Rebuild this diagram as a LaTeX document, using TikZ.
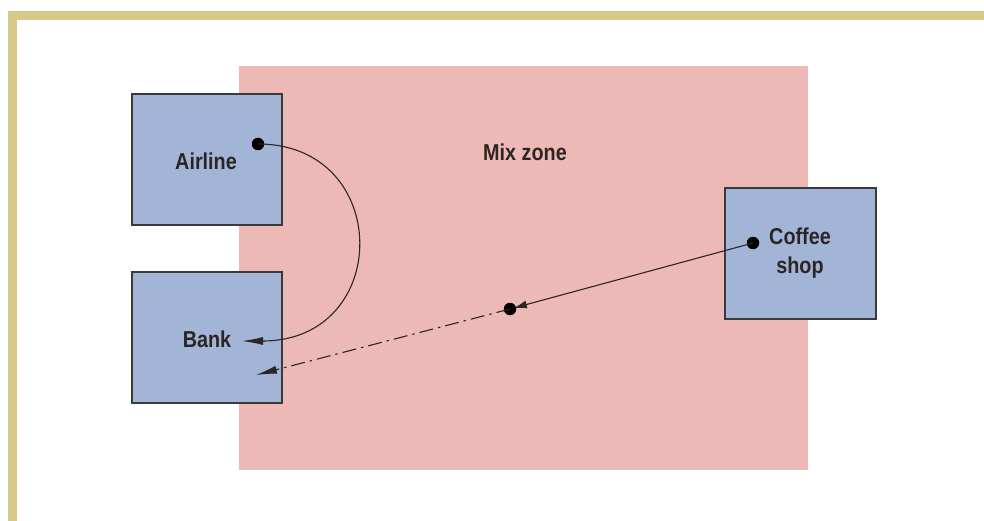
\documentclass[tikz,border=0pt]{standalone}
\usepackage{fontspec}
\newfontfamily\labelfont[FakeStretch=0.86]{Liberation Sans Bold}
\usetikzlibrary{arrows.meta}
\definecolor{frame}{HTML}{D9C989}
\definecolor{zone}{HTML}{EDB9B7}
\definecolor{boxfill}{HTML}{A2B5D6}
\definecolor{boxline}{HTML}{3A3A3E}
\definecolor{ink}{HTML}{2B2523}
\tikzset{
  place/.style={draw=boxline, fill=boxfill, line width=1.4pt},
  lbl/.style={font=\labelfont\fontsize{23}{29}\selectfont, text=ink, align=center, inner sep=0pt},
  dotpt/.style={circle, fill=black, minimum size=12.5pt, inner sep=0pt},
  link/.style={line width=1.1pt, draw=ink},
  tip/.style={-{Latex[length=21pt,width=8pt]}},
  smalltip/.style={-{Latex[length=13pt,width=8pt]}},
  dashdot/.style={dash pattern=on 14pt off 5pt on 2.5pt off 5pt}
}
\begin{document}
\begin{tikzpicture}[x=1pt,y=-1pt]
\useasboundingbox (0,0) rectangle (984,521);
% frame
\draw[frame, line width=9pt] (984,15.5) -- (12.5,15.5) -- (12.5,521);
% mix zone
\fill[zone] (239,66) rectangle (808,470);
\node[lbl] (mix) at (525,152) {Mix zone};
% boxes
\draw[place] (132,94) rectangle (282,225);
\draw[place] (132,272) rectangle (282,403);
\draw[place] (725,188) rectangle (876,319);
\node[lbl] (airline) at (206,161) {Airline};
\node[lbl] (bank) at (207,339) {Bank};
\node[lbl] (coffee) at (800,253.5) {Coffee\\shop};
% dots
\node[dotpt] (adot) at (258,144) {};
\node[dotpt] (cdot) at (753,243) {};
\node[dotpt] (mdot) at (510,309) {};
\coordinate (btip) at (242,341);
\coordinate (dtip) at (256,375);
% connectors
\draw[link, tip] (adot.center) .. controls (393,144) and (393,341) .. (btip);
\draw[link, smalltip, shorten >=4pt] (cdot.center) -- (mdot.center);
\draw[link, tip, dashdot] (mdot.center) -- (dtip);
\end{tikzpicture}
\end{document}
